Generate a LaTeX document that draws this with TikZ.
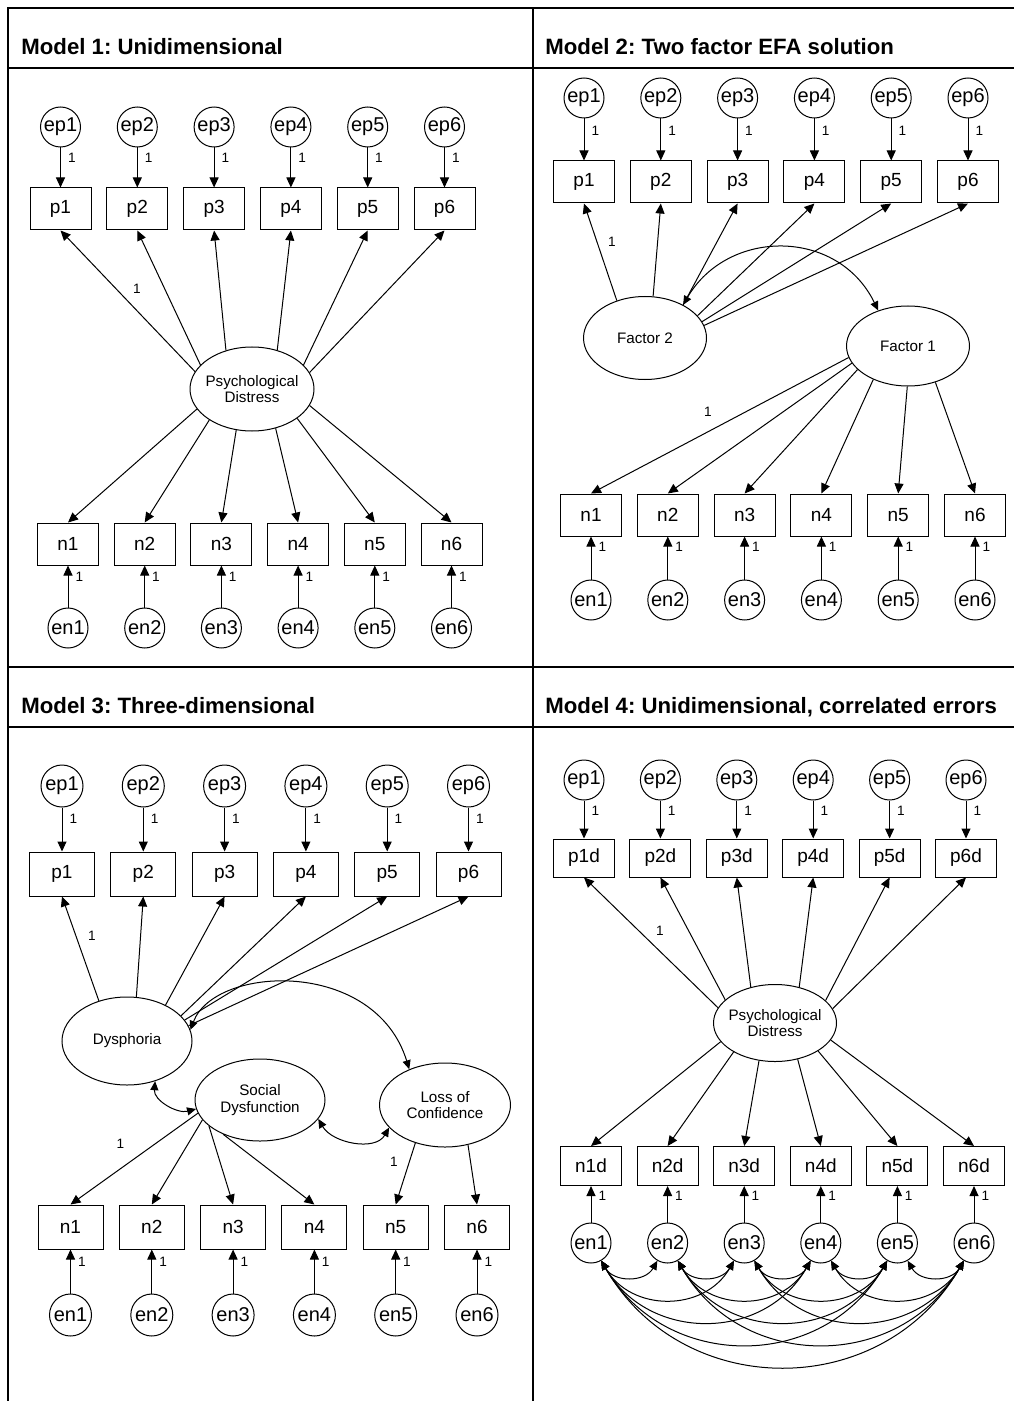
\documentclass[tikz,border=0pt]{standalone}
\usepackage{fontspec}
\setmainfont{Liberation Sans}
\usetikzlibrary{arrows.meta, shapes.geometric}
\frenchspacing

\begin{document}
\begin{tikzpicture}[x=0.5pt, y=-0.5pt,
    obs/.style={draw, line width=0.5pt, minimum width=30.5pt, minimum height=21pt, inner sep=0pt, font=\fontsize{9.5}{11}\selectfont},
    err/.style={draw, circle, line width=0.5pt, minimum size=20pt, inner sep=0pt, font=\fontsize{10}{11}\selectfont},
    lat/.style={draw, ellipse, line width=0.5pt, minimum width=61.5pt, minimum height=41.5pt, inner xsep=-2pt, inner ysep=0pt, align=center, font=\fontsize{7.6}{8.4}\selectfont},
    load/.style={-{Triangle[length=5pt, width=4.5pt]}, line width=0.5pt},
    cov/.style={{Triangle[length=4.5pt, width=4pt]}-{Triangle[length=4.5pt, width=4pt]}, line width=0.5pt},
    one/.style={font=\fontsize{6.8}{7.5}\selectfont, inner sep=1pt},
    tableline/.style={line width=1pt},
    heading/.style={anchor=base west, inner sep=0pt, font=\fontsize{11.1}{13}\selectfont\bfseries}]

    \useasboundingbox (0,0) rectangle (1014,1401);

    % Khung bảng
    \draw[tableline] (1014,8) -- (8,8) -- (8,1401);
    \draw[tableline] (533,8) -- (533,1401);
    \draw[tableline] (8,68) -- (1014,68);
    \draw[tableline] (8,667) -- (1014,667);
    \draw[tableline] (8,727) -- (1014,727);

    % Tiêu đề
    \node[heading] (ttl_m1) at (21,55) {Model 1: Unidimensional};
    \node[heading] (ttl_m2) at (545,55) {Model 2: Two factor EFA solution};
    \node[heading] (ttl_m3) at (21,713) {Model 3: Three-dimensional};
    \node[heading] (ttl_m4) at (545,713) {Model 4: Unidimensional, correlated errors};

    % 1. Model 1
    \node[lat, minimum width=62pt, minimum height=42pt] (m1_pd) at (252,389) {Psychological\\Distress};
    \foreach \i/\a/\b in {1/163/-160, 2/155/-144, 3/124/-111, 4/57/-59, 5/25/-33, 6/16/-16} {
        \node[err] (m1_ep\i) at ({60.5+76.8*(\i-1)},127) {ep\i};
        \node[obs] (m1_p\i) at ({60.5+76.8*(\i-1)},209) {p\i};
        \node[obs] (m1_n\i) at ({68+76.7*(\i-1)},544) {n\i};
        \node[err] (m1_en\i) at ({68+76.7*(\i-1)},628) {en\i};
        \draw[load] (m1_ep\i) -- node[one, pos=.27, right=2.5pt] {1} (m1_p\i);
        \draw[load] (m1_en\i) -- node[one, pos=.73, right=2.5pt] {1} (m1_n\i);
        \draw[load] (m1_pd.\a) -- (m1_p\i.south);
        \draw[load] (m1_pd.\b) -- (m1_n\i.north);
    }
    \node[one] (m1_l1) at (137,289) {1};

    % 2. Model 2
    \node[lat] (m2_f2) at (645,338) {Factor 2};
    \node[lat, minimum height=40pt] (m2_f1) at (908,346) {Factor 1};
    \foreach \i/\a/\b in {1/127/-169, 2/79/-163, 3/41/-155, 4/23/-136, 5/16/-91, 6/12/-53} {
        \node[err] (m2_ep\i) at ({584+76.8*(\i-1)},98) {ep\i};
        \node[obs] (m2_p\i) at ({584+76.8*(\i-1)},182) {p\i};
        \node[obs] (m2_n\i) at ({591+76.8*(\i-1)},515) {n\i};
        \node[err] (m2_en\i) at ({591+76.8*(\i-1)},600) {en\i};
        \draw[load] (m2_ep\i) -- node[one, pos=.3, right=2.5pt] {1} (m2_p\i);
        \draw[load] (m2_en\i) -- node[one, pos=.75, right=2.5pt] {1} (m2_n\i);
        \draw[load] (m2_f2.\a) -- (m2_p\i.south);
        \draw[load] (m2_f1.\b) -- (m2_n\i.north);
    }
    \draw[cov] (m2_f2.41) .. controls (728,228) and (838,228) .. (m2_f1.130);
    \node[one] (m2_l1) at (612,242) {1};
    \node[one] (m2_l2) at (708,412) {1};

    % 3. Model 3
    \node[lat, minimum width=65pt, minimum height=44pt] (m3_dys) at (127,1041) {Dysphoria};
    \node[lat, minimum width=65pt, minimum height=41pt] (m3_soc) at (260,1100) {Social\\Dysfunction};
    \node[lat, minimum width=65.5pt, minimum height=42pt] (m3_loc) at (445,1105) {Loss of\\Confidence};
    \foreach \i/\a in {1/125, 2/78, 3/43, 4/25, 5/20, 6/14} {
        \node[err, minimum size=21pt] (m3_ep\i) at ({62+81.3*(\i-1)},786) {ep\i};
        \node[obs, minimum width=32.5pt, minimum height=22pt] (m3_p\i) at ({62+81.3*(\i-1)},874) {p\i};
        \node[obs, minimum width=32.5pt, minimum height=22pt] (m3_n\i) at ({70.5+81.3*(\i-1)},1227) {n\i};
        \node[err, minimum size=21pt] (m3_en\i) at ({70.5+81.3*(\i-1)},1315) {en\i};
        \draw[load] (m3_ep\i) -- node[one, pos=.25, right=2.5pt] {1} (m3_p\i);
        \draw[load] (m3_en\i) -- node[one, pos=.73, right=2.5pt] {1} (m3_n\i);
        \draw[load] (m3_dys.\a) -- (m3_p\i.south);
    }
    \foreach \i/\b in {1/-168, 2/-161, 3/-153, 4/-137}
        \draw[load] (m3_soc.\b) -- (m3_n\i.north);
    \draw[load] (m3_loc.-128) -- (m3_n5.north);
    \draw[load] (m3_loc.-60) -- (m3_n6.north);
    % hiệp phương sai
    \draw[cov] (m3_dys.10) .. controls (215,965) and (375,958) .. (m3_loc.135);
    \draw[cov] (m3_dys.-55) to[out=-95, in=195] (m3_soc.-172);
    \draw[cov] (m3_soc.-18) to[out=-60, in=-120] (m3_loc.-158);
    \node[one] (m3_l1) at (92,936) {1};
    \node[one] (m3_l2) at (120.5,1144) {1};
    \node[one] (m3_l3) at (394,1162) {1};

    % 4. Model 4
    \node[lat, minimum height=38.5pt] (m4_pd) at (775,1023) {Psychological\\Distress};
    \foreach \i/\a/\b in {1/165/-161, 2/155/-145, 3/124/-113, 4/56/-58, 5/24/-33, 6/14/-17} {
        \node[err] (m4_ep\i) at ({584+76.4*(\i-1)},780) {ep\i};
        \node[obs, minimum height=19pt] (m4_p\i) at ({584+76.4*(\i-1)},858) {p\i d};
        \node[obs, minimum height=19.5pt] (m4_n\i) at ({591+76.6*(\i-1)},1166) {n\i d};
        \node[err] (m4_en\i) at ({591+76.6*(\i-1)},1243) {en\i};
        \draw[load] (m4_ep\i) -- node[one, pos=.28, right=2.5pt] {1} (m4_p\i);
        \draw[load] (m4_en\i) -- node[one, pos=.72, right=2.5pt] {1} (m4_n\i);
        \draw[load] (m4_pd.\a) -- (m4_p\i.south);
        \draw[load] (m4_pd.\b) -- (m4_n\i.north);
    }
    \node[one] (m4_l1) at (660,931) {1};
    % sai số tương quan
    \foreach \i [evaluate=\i as \k using int(\i+1)] in {1,...,5} {
        \foreach \j in {\k,...,6}
            \draw[cov] (m4_en\i.-60) to[out=-60, in=-120, looseness=1.15] (m4_en\j.-120);
    }

\end{tikzpicture}
\end{document}
